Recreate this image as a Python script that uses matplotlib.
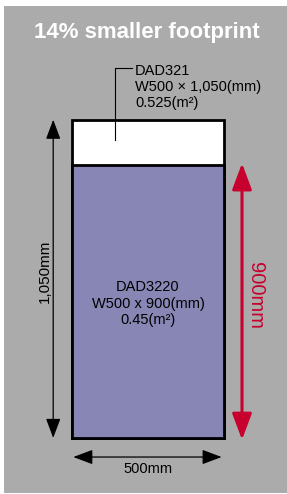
import matplotlib
matplotlib.use("Agg")
import matplotlib.pyplot as plt
from matplotlib.patches import Rectangle, FancyArrowPatch

plt.rcParams["font.family"] = ["Liberation Sans", "DejaVu Sans"]

# footprint data (mm)
width_mm = 500
old_length_mm = 1050
new_length_mm = 900
old_model = ["DAD321", "W500 \u00d7 1,050(mm)", "0.525(m\u00b2)"]
new_model = ["DAD3220", "W500 x 900(mm)", "0.45(m\u00b2)"]
title = "14% smaller footprint"

GRAY = "#ababab"
PURPLE = "#8786b5"
RED = "#c8002d"

fig = plt.figure(figsize=(2.87, 4.94), dpi=100)
fig.patch.set_facecolor("white")

ax = fig.add_axes([0, 0, 1, 1])
ax.set_xlim(-237, 707)
ax.set_ylim(-185, 1445)
ax.axis("off")

# gray panel
ax.add_patch(Rectangle((4 / 287, 1 / 494), 1, 1 - 7 / 494, transform=fig.transFigure,
                       facecolor=GRAY, edgecolor="none", zorder=0, clip_on=False))

# footprints
ax.add_patch(Rectangle((0, 0), width_mm, old_length_mm, facecolor="white",
                       edgecolor="black", lw=2.0, zorder=2))
ax.add_patch(Rectangle((0, 0), width_mm, new_length_mm, facecolor=PURPLE,
                       edgecolor="black", lw=2.0, zorder=3))

def dim_arrow(p0, p1, color, lw, hl, hw):
    a = FancyArrowPatch(p0, p1, arrowstyle=f"<|-|>,head_length={hl},head_width={hw}",
                        color=color, lw=lw, shrinkA=0, shrinkB=0, mutation_scale=1, zorder=4)
    ax.add_patch(a)

# dimension arrows
dim_arrow((-62, 0), (-62, old_length_mm), "black", 0.9, 12, 4.5)
dim_arrow((559, -6), (559, new_length_mm + 6), RED, 2.2, 16, 6)
dim_arrow((4, -63), (width_mm - 8, -63), "black", 0.9, 12, 4.5)

ax.text(-89, 550, f"{old_length_mm:,}mm", rotation=90, ha="center",
        va="center", fontsize=11)
ax.text(603, 471, f"{new_length_mm}mm", rotation=270, ha="center",
        va="center", fontsize=14.5, color=RED)
ax.text(width_mm / 2, -102, f"{width_mm}mm", ha="center", va="center", fontsize=10.5)

# title
ax.text(246, 1338, title, ha="center", va="center", fontsize=16,
        fontweight="bold", color="white")

# old model callout
ax.plot([142, 142, 197], [982, 1219, 1219], color="black", lw=0.8, zorder=5)
for i, line in enumerate(old_model):
    ax.text(207, 1212 - i * 54, line, ha="left", va="center", fontsize=10.5)

# new model label
for i, line in enumerate(new_model):
    ax.text(width_mm / 2, 497 - i * 54, line, ha="center", va="center", fontsize=10.5, zorder=6)

fig.savefig("out.png", dpi=100)
